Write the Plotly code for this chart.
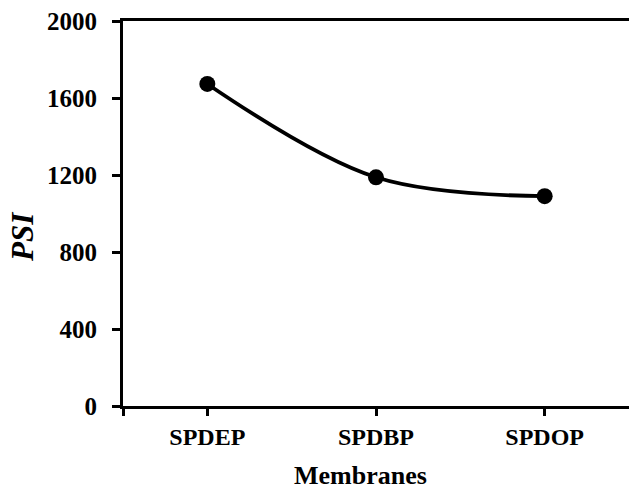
import plotly.graph_objects as go

membranes = ["SPDEP", "SPDBP", "SPDOP"]
psi = [1673, 1188, 1090]
y_ticks = [0, 400, 800, 1200, 1600, 2000]

x_pos = [i + 0.5 for i in range(len(membranes))]

fig = go.Figure()
fig.add_trace(go.Scatter(
    x=x_pos, y=psi, mode="lines+markers",
    line=dict(color="black", width=3.8, shape="spline", smoothing=1.0),
    marker=dict(color="black", size=16),
    showlegend=False, cliponaxis=False,
))

font_family = "Liberation Serif, Times New Roman, serif"

fig.update_layout(
    width=629, height=490,
    margin=dict(l=123, r=0, t=21, b=84),
    plot_bgcolor="white", paper_bgcolor="white",
    font=dict(family=font_family, color="black"),
    xaxis=dict(
        range=[0, 3], showgrid=False, zeroline=False,
        showline=True, linecolor="black", linewidth=2.8, mirror=True,
        ticks="outside", ticklen=7, tickwidth=2.8, tickcolor="black",
        tickvals=[0] + x_pos, ticktext=[""] + membranes,
        ticklabelstandoff=0,
        tickfont=dict(size=24, family=font_family, color="black", weight="bold"),
    ),
    yaxis=dict(
        range=[0, 2000], showgrid=False, zeroline=False,
        showline=True, linecolor="black", linewidth=2.8,
        ticks="outside", ticklen=8, tickwidth=2.8, tickcolor="black",
        tickvals=y_ticks, ticktext=[str(v) for v in y_ticks],
        ticklabelstandoff=10,
        tickfont=dict(size=25, family=font_family, color="black", weight="bold"),
    ),
    annotations=[
        dict(text="<b>Membranes</b>", xref="paper", yref="paper", x=(360 - 123) / 506, y=0,
             yshift=-69, xanchor="center", yanchor="middle", showarrow=False,
             font=dict(size=26, family=font_family, color="black")),
        dict(text="<b><i>PSI</i></b>", xref="paper", yref="paper", x=0, y=(406 - 237) / 385,
             xshift=-101, xanchor="center", yanchor="middle", textangle=-90,
             showarrow=False, font=dict(size=31, family=font_family, color="black")),
    ],
)

fig.write_html("out.html")
